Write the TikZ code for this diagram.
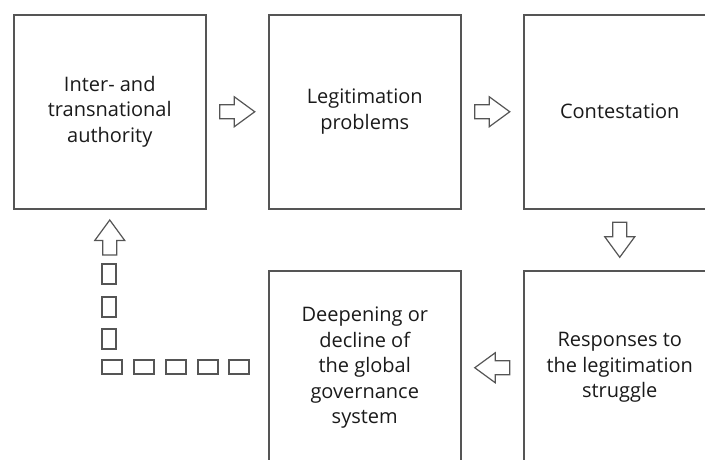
\documentclass[tikz,border=0pt]{standalone}
\usepackage{fontspec}
\setmainfont{Open Sans}
\usetikzlibrary{calc}
\definecolor{linegray}{HTML}{555555}
\definecolor{textgray}{HTML}{1A1A1A}
\begin{document}
\begin{tikzpicture}[x=1pt,y=-1pt,
  box/.style={draw=linegray, line width=1.5pt, minimum width=192pt, minimum height=194pt, inner sep=0pt, anchor=north west, align=center, font=\fontsize{20}{25.5}\selectfont, text=textgray},
  blk/.style={draw=linegray, line width=1.2pt, fill=white, line join=miter},
  dsq/.style={draw=linegray, line width=1.2pt},
  barrow/.pic={\draw[blk] (-17.5,-7) -- (-3,-7) -- (-3,-15) -- (17.5,0) -- (-3,15) -- (-3,7) -- (-17.5,7) -- cycle;}
]
\useasboundingbox (0,0) rectangle (705,459);
\clip (0,0) rectangle (705,459);
\node[box] (auth) at (13,14) {Inter- and\\transnational\\authority};
\node[box] (legit) at (268,14) {Legitimation\\problems};
\node[box] (cont) at (523,14) {Contestation};
\node[box] (resp) at (523,270) {Responses to\\the legitimation\\struggle};
\node[box] (deep) at (268,270) {Deepening or\\decline of\\the global\\governance\\system};
\pic at ($(auth.east)!0.5!(legit.west)$) {barrow};
\pic at ($(legit.east)!0.5!(cont.west)$) {barrow};
\pic[rotate=-90] at ($(cont.south)!0.5!(resp.north)$) {barrow};
\pic[rotate=180] at ($(resp.west)!0.5!(deep.east)$) {barrow};
\pic[rotate=90] at ($(auth.south)+(0,28)$) {barrow};
\foreach \yy in {264,297,329} \draw[dsq] (102,\yy) rectangle (116,\yy+20);
\foreach \xx in {102,134,166,198,229} \draw[dsq] (\xx,360) rectangle (\xx+20,374);
\end{tikzpicture}
\end{document}
